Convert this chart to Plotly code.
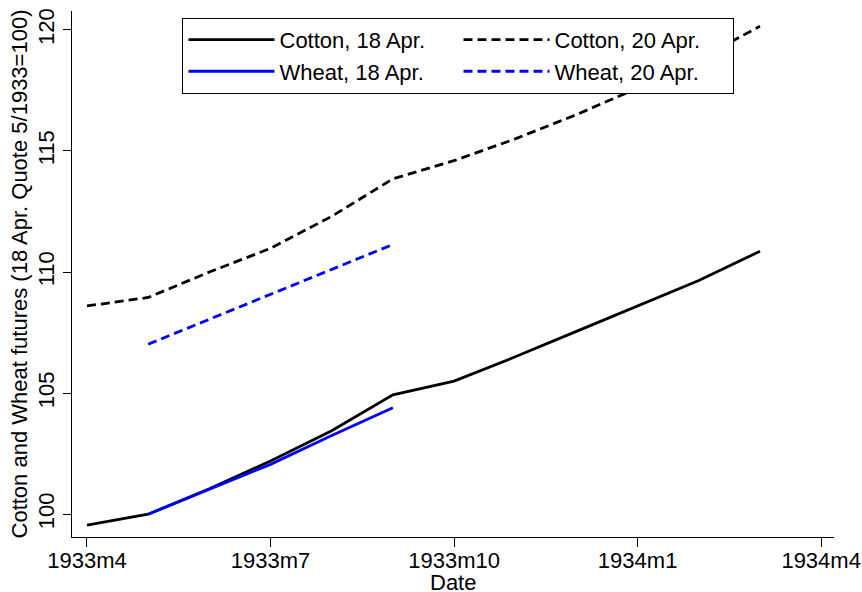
import plotly.graph_objects as go

month_labels = ["1933m4", "1933m5", "1933m6", "1933m7", "1933m8", "1933m9",
                "1933m10", "1933m11", "1933m12", "1934m1", "1934m2", "1934m3"]
month_index = list(range(len(month_labels)))

cotton_18 = [99.55, 100.0, 101.05, 102.2, 103.45, 104.93, 105.5, 106.5, 107.55, 108.6, 109.65, 110.86]
cotton_20 = [108.6, 108.95, 110.0, 110.98, 112.3, 113.85, 114.6, 115.5, 116.5, 117.6, 118.8, 120.15]
wheat_18 = [None, 100.0, 101.02, 102.06, 103.25, 104.4] + [None] * 6
wheat_20 = [None, 107.02, 108.05, 109.05, 110.1, 111.14] + [None] * 6

tick_vals_x = [0, 3, 6, 9, 12]
tick_text_x = ["1933m4", "1933m7", "1933m10", "1934m1", "1934m4"]
tick_vals_y = [100, 105, 110, 115, 120]
x_title = "Date"
y_title = "Cotton and Wheat futures (18 Apr. Quote 5/1933=100)"

FONT = "Liberation Sans, Arial, Helvetica, sans-serif"
DASH = "9px,5px"

fig = go.Figure()
fig.add_trace(go.Scatter(x=month_index, y=cotton_18, mode="lines", name="Cotton, 18 Apr.",
                         line=dict(color="black", width=2.8)))
fig.add_trace(go.Scatter(x=month_index, y=cotton_20, mode="lines", name="Cotton, 20 Apr.",
                         line=dict(color="black", width=2.8, dash=DASH)))
fig.add_trace(go.Scatter(x=month_index, y=wheat_18, mode="lines", name="Wheat, 18 Apr.",
                         line=dict(color="#0000ff", width=2.8)))
fig.add_trace(go.Scatter(x=month_index, y=wheat_20, mode="lines", name="Wheat, 20 Apr.",
                         line=dict(color="#0000ff", width=2.8, dash=DASH)))

fig.update_layout(
    width=862, height=592,
    margin=dict(l=72, r=28, t=11, b=55),
    paper_bgcolor="white", plot_bgcolor="white",
    font=dict(family=FONT, size=22, color="black"),
    legend=dict(
        orientation="h", x=0.145, y=0.987, xanchor="left", yanchor="top",
        bordercolor="black", borderwidth=1, bgcolor="white",
        itemwidth=86, entrywidth=174, traceorder="normal",
        font=dict(family=FONT, size=22, color="black"),
    ),
    showlegend=True,
    annotations=[dict(text=x_title, xref="paper", yref="paper", x=0.5, y=-0.087,
                      xanchor="center", yanchor="middle", showarrow=False, borderpad=0,
                      font=dict(family=FONT, size=22, color="black"))],
)
fig.update_xaxes(
    range=[-0.245, 12.21], tickvals=tick_vals_x, ticktext=tick_text_x,
    showline=True, linecolor="black", linewidth=1.2, ticks="outside", ticklen=9,
    tickcolor="black", showgrid=False, zeroline=False, automargin=False,
    ticklabelstandoff=-6, tickfont=dict(size=22),
)
fig.update_yaxes(
    range=[99.06, 120.78], tickvals=tick_vals_y, tickangle=-90,
    showline=True, linecolor="black", linewidth=1.2, ticks="outside", ticklen=8,
    tickcolor="black", showgrid=False, zeroline=False, automargin=False,
    title=dict(text=y_title, standoff=0, font=dict(size=22)),
    tickfont=dict(size=22),
)

fig.write_html("out.html", config={"displayModeBar": False},
               post_script="document.body.style.margin='0';document.body.style.padding='0';")
